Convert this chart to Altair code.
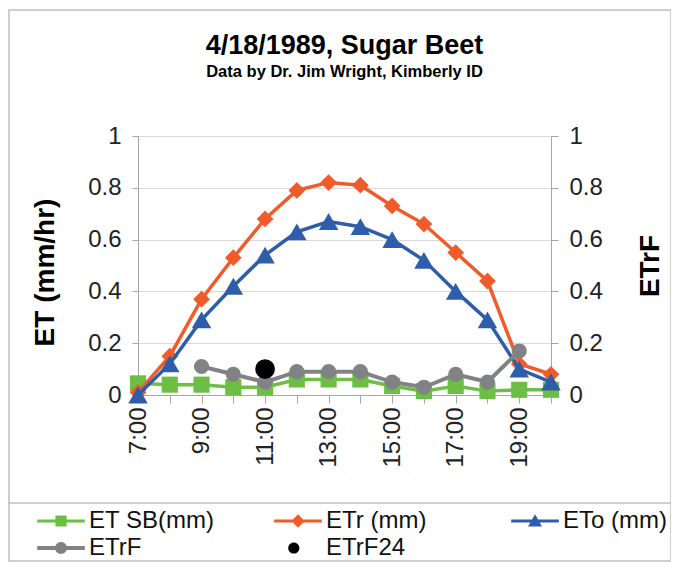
import altair as alt
import pandas as pd

# ---- data ----
hours = [7, 8, 9, 10, 11, 12, 13, 14, 15, 16, 17, 18, 19, 20]
et_sb = [0.045, 0.04, 0.04, 0.03, 0.03, 0.06, 0.06, 0.06, 0.035, 0.015, 0.035, 0.015, 0.02, 0.02]
etr = [0.01, 0.15, 0.37, 0.53, 0.68, 0.79, 0.82, 0.81, 0.73, 0.66, 0.55, 0.44, 0.12, 0.08]
eto = [0.0, 0.12, 0.29, 0.42, 0.54, 0.63, 0.67, 0.65, 0.60, 0.52, 0.40, 0.29, 0.10, 0.05]
etrf_hours = [9, 10, 11, 12, 13, 14, 15, 16, 17, 18, 19]
etrf = [0.11, 0.08, 0.05, 0.09, 0.09, 0.09, 0.05, 0.03, 0.08, 0.05, 0.17]
etrf24_hour = [11]
etrf24 = [0.10]

series_names = ["ET SB(mm)", "ETr (mm)", "ETo (mm)", "ETrF", "ETrF24"]
series_colors = ["#6DBE45", "#F15A29", "#2E5DAA", "#808285", "#000000"]

FONT = "Liberation Sans"
W, H = 413, 259
TICK_FS = 24

x_scale = alt.Scale(domain=[7, 20], nice=False)
x_axis = alt.Axis(
    values=hours, labelExpr="datum.value % 2 == 1 ? datum.value + ':00' : ''",
    labelAngle=-90, labelFontSize=TICK_FS, labelFont=FONT, labelColor="#222",
    labelPadding=4, tickSize=8, tickColor="#A6A6A6", domainColor="#A6A6A6",
    grid=False, title=None, labelOverlap=False, labelBound=False, labelFlush=False,
)
yl_scale = alt.Scale(domain=[0, 1], nice=False)
yl_axis = alt.Axis(
    values=[0, 0.2, 0.4, 0.6, 0.8, 1], format="~g", labelFontSize=TICK_FS, labelFont=FONT,
    labelColor="#222", labelPadding=11, tickSize=6, tickColor="#A6A6A6",
    domainColor="#A6A6A6", grid=True, gridColor="#D9D9D9", gridWidth=1.2,
    title="ET (mm/hr)", titleFont=FONT, titleFontSize=28, titleFontWeight="bold",
    titleColor="#000", titleAngle=270, titleX=-93, titleY=136, titleAlign="center",
    titleBaseline="middle", labelFlush=False,
)
yr_axis = alt.Axis(
    orient="right", values=[0, 0.2, 0.4, 0.6, 0.8, 1], format="~g", labelFontSize=TICK_FS,
    labelFont=FONT, labelColor="#222", labelPadding=11, tickSize=7, tickColor="#A6A6A6",
    domainColor="#A6A6A6", grid=False, title="ETrF", titleFont=FONT, titleFontSize=28,
    titleFontWeight="bold", titleColor="#000", titleAngle=270, titleX=99, titleY=H / 2,
    titleAlign="center", titleBaseline="middle", labelFlush=False,
)

left_df = pd.DataFrame({"hour": hours, "ET SB(mm)": et_sb, "ETr (mm)": etr, "ETo (mm)": eto})
etrf_df = pd.DataFrame({"hour": etrf_hours, "v": etrf})
etrf24_df = pd.DataFrame({"hour": etrf24_hour, "v": etrf24})

marker_shapes = {"ET SB(mm)": ("square", 260), "ETr (mm)": ("diamond", 280), "ETo (mm)": ("triangle-up", 380)}

X = alt.X("hour:Q", scale=x_scale, axis=x_axis)

left_layers = []
for name, color in zip(series_names[:3], series_colors[:3]):
    base = alt.Chart(left_df).encode(
        x=X,
        y=alt.Y(f"{name}:Q", scale=yl_scale, axis=yl_axis),
    )
    shape, size = marker_shapes[name]
    left_layers.append(base.mark_line(color=color, strokeWidth=3.5))
    left_layers.append(base.mark_point(shape=shape, size=size, color=color, filled=True, opacity=1))

# ---- legend (symbols with a line through the marker) ----
legend_paths = [
    "M-3.4,-0.22L3.4,-0.22L3.4,0.22L-3.4,0.22Z M-0.8,-0.8L0.8,-0.8L0.8,0.8L-0.8,0.8Z",
    "M-3.4,-0.22L3.4,-0.22L3.4,0.22L-3.4,0.22Z M0,-0.95L0.95,0L0,0.95L-0.95,0Z",
    "M-3.4,-0.22L3.4,-0.22L3.4,0.22L-3.4,0.22Z M0,-0.95L1,0.8L-1,0.8Z",
    "M-3.4,-0.28L3.4,-0.28L3.4,0.28L-3.4,0.28Z M-0.85,0A0.85,0.85,0,1,1,0.85,0A0.85,0.85,0,1,1,-0.85,0Z",
    "M-1.4,0A0.8,0.8,0,1,1,0.2,0A0.8,0.8,0,1,1,-1.4,0Z",
]
leg = alt.Legend(
    orient="none", legendX=-106, legendY=373, direction="horizontal", columns=3,
    title=None, labelFont=FONT, labelFontSize=24, labelColor="#111",
    symbolSize=196, symbolOpacity=1, symbolStrokeWidth=0, symbolOffset=17,
    labelOffset=16, columnPadding=54, rowPadding=3, gridAlign="all",
    labelLimit=300,
)
legend_df = pd.DataFrame({"series": series_names, "hour": [7] * 5, "v": [0] * 5})
legend_layer = alt.Chart(legend_df).mark_point(filled=True, opacity=0, size=1).encode(
    x=X,
    y=alt.Y("v:Q", scale=yl_scale, axis=yl_axis),
    color=alt.Color("series:N", scale=alt.Scale(domain=series_names, range=series_colors), legend=leg),
    shape=alt.Shape("series:N", scale=alt.Scale(domain=series_names, range=legend_paths), legend=leg),
)
left_layers.append(legend_layer)

yr_scale = alt.Scale(domain=[0, 1], nice=False)
etrf_base = alt.Chart(etrf_df).encode(
    x=X,
    y=alt.Y("v:Q", scale=yr_scale, axis=yr_axis),
)
right_layers = [
    etrf_base.mark_line(color=series_colors[3], strokeWidth=4),
    etrf_base.mark_point(shape="circle", size=230, color=series_colors[3], filled=True, opacity=1),
    alt.Chart(etrf24_df).mark_point(shape="circle", size=390, color="#000", filled=True, opacity=1).encode(
        x=X,
        y=alt.Y("v:Q", scale=yr_scale, axis=yr_axis),
    ),
]

# ---- frame decoration ----
frame_df = pd.DataFrame({"k": [0]})
frame = alt.Chart(frame_df).mark_rect(fill=None, stroke="#BFBFBF", strokeWidth=1.5).encode(
    x=alt.value(-129), x2=alt.value(533), y=alt.value(-126), y2=alt.value(425)
)
sep = alt.Chart(frame_df).mark_rule(stroke="#BFBFBF", strokeWidth=1.5).encode(
    x=alt.value(-129), x2=alt.value(533), y=alt.value(367)
)

left = alt.layer(*left_layers)
right = alt.layer(*right_layers)
chart = alt.layer(frame, sep, left, right).resolve_scale(
    y="independent"
).properties(
    width=W, height=H,
    padding={"left": 130, "top": 128, "right": 120, "bottom": 167},
    autosize=alt.AutoSizeParams(type="none"),
    title=alt.TitleParams(
        "4/18/1989, Sugar Beet", subtitle="Data by Dr. Jim Wright, Kimberly ID",
        font=FONT, fontSize=27, fontWeight="bold", color="#000",
        subtitleFont=FONT, subtitleFontSize=16.5, subtitleFontWeight="bold", subtitleColor="#000",
        anchor="middle", offset=-72, subtitlePadding=4, frame="group",
    ),
).configure_view(stroke=None).configure(background="white")

chart.save("out.html", embed_options={"renderer": "svg", "actions": False})
